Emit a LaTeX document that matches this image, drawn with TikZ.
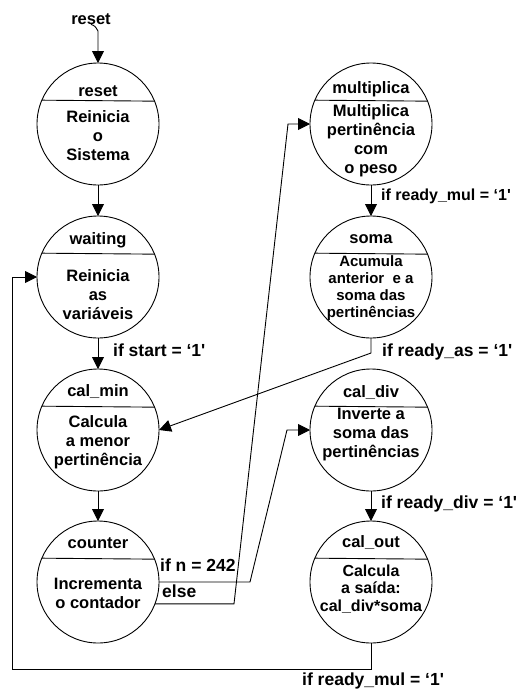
\documentclass[tikz,border=0pt]{standalone}
\usepackage{fontspec}
\newfontfamily\arialbold{Liberation Sans Bold}
\usetikzlibrary{arrows.meta,calc}

% #1 extra body style, #2 name, #3 centre, #4 title baseline offset,
% #5 title, #6 body offset, #7 body text
\newcommand\fsmstate[7][]{%
  \node[state] (#2) at (#3) {};
  \draw[wire] (#2.157.8) -- (#2.22.2);
  \node[lbl,anchor=base] (#2-title) at ($(#2.center)+(0,#4)$) {#5};
  \node[lbl,#1] (#2-body) at ($(#2.center)+(0,#6)$) {#7};
}

\begin{document}
\begin{tikzpicture}[x=1pt,y=-1pt,
  state/.style={circle,draw,line width=0.9pt,minimum size=122pt,inner sep=0pt,outer sep=0pt},
  lbl/.style={font=\arialbold\fontsize{16.5}{19}\selectfont,inner sep=0pt,align=center,text=black},
  smallbody/.style={font=\arialbold\fontsize{15}{17}\selectfont},
  outbody/.style={font=\arialbold\fontsize{16}{17.5}\selectfont},
  wire/.style={line width=0.9pt},
  arr/.style={wire,-{Triangle[length=12pt,width=12pt]}},
  cond/.style={lbl,anchor=base west,font=\arialbold\fontsize{17.5}{19}\selectfont},
  tightcond/.style={cond,font=\arialbold\fontsize{16}{19}\selectfont}
]
\useasboundingbox (0,0) rectangle (518,697);

% left column
\fsmstate{reset}{98,124}{-28}{reset}{12}{Reinicia\\o\\Sistema}
\fsmstate{waiting}{98,277}{-33}{waiting}{18}{Reinicia\\as\\variáveis}
\fsmstate{calmin}{98,430}{-34}{cal\_min}{12}{Calcula\\a menor\\pertinência}
\fsmstate{counter}{98,582}{-34}{counter}{11.5}{Incrementa\\o contador}

% right column
\fsmstate{multiplica}{371,124}{-31}{multiplica}{16.5}{Multiplica\\pertinência\\com\\o peso}
\fsmstate[smallbody]{soma}{371,277}{-34}{soma}{11}{Acumula\\anterior\ \ e a\\soma das\\pertinências}
\fsmstate{caldiv}{371,430}{-33}{cal\_div}{5}{Inverte a\\soma das\\pertinências}
\fsmstate[outbody]{calout}{371,582}{-35}{cal\_out}{7}{Calcula\\a saída:\\cal\_div*soma}

% reset input
\node[lbl,anchor=base] (rstin) at (91,24) {reset};
\coordinate (rstbend) at (98,31);
\draw[arr] (rstin.south) .. controls (95,26) .. (rstbend) -- (reset);

% vertical transitions
\draw[arr] (reset) -- (waiting);
\draw[arr] (waiting) -- (calmin);
\draw[arr] (calmin) -- (counter);
\draw[arr] (multiplica) -- (soma);
\draw[arr] (caldiv) -- (calout);

% counter branches
\coordinate (nA) at (250,582);
\coordinate (nB) at (287,430);
\draw[arr] (counter.east) -- (nA) -- (nB) -- (caldiv);
\coordinate (eA) at (234,0);
\coordinate (eB) at (288,124);
\draw[arr] (counter.-21) -- (counter.-21 -| eA) -- (eB) -- (multiplica);

% soma back to cal_min
\coordinate (sA) at (371,353);
\draw[arr] (soma) -- (sA) -- (calmin.east);

% cal_out back to waiting
\coordinate (oA) at (371,669);
\coordinate (oB) at (12,669);
\coordinate (oC) at (12,277);
\draw[arr] (calout) -- (oA) -- (oB) -- (oC) -- (waiting);

% transition conditions
\node[cond] (cstart) at (113,356) {if start = ‘1'};
\node[tightcond] (cmul) at (381,200) {if ready\_mul = ‘1'};
\node[cond] (cas) at (382,356) {if ready\_as = ‘1'};
\node[cond] (cdiv) at (381,508) {if ready\_div = ‘1'};
\node[cond] (cmul2) at (302,685) {if ready\_mul = ‘1'};
\node[cond] (cn) at (160,571) {if n = 242};
\node[cond] (celse) at (162,597) {else};
\end{tikzpicture}
\end{document}
